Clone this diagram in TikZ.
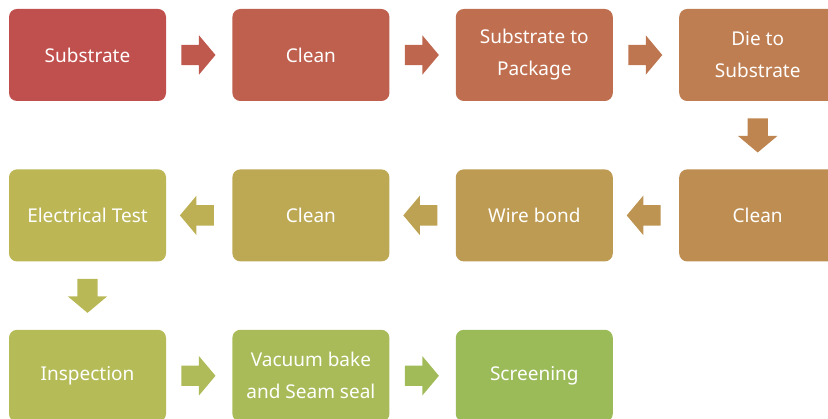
\documentclass[tikz,border=0pt]{standalone}
\usepackage{fontspec}
\setmainfont{Noto Sans}
\usetikzlibrary{positioning,shapes.arrows,calc}

% red to green range, one tone per step
\definecolor{tone0}{RGB}{192,80,77}
\definecolor{tone1}{RGB}{191,96,78}
\definecolor{tone2}{RGB}{191,111,79}
\definecolor{tone3}{RGB}{190,126,81}
\definecolor{tone4}{RGB}{190,141,82}
\definecolor{tone5}{RGB}{189,155,83}
\definecolor{tone6}{RGB}{189,169,84}
\definecolor{tone7}{RGB}{188,182,85}
\definecolor{tone8}{RGB}{181,188,87}
\definecolor{tone9}{RGB}{168,187,88}
\definecolor{tone10}{RGB}{155,187,89}

\begin{document}
\begin{tikzpicture}[
    node distance=68pt and 66pt,
    stepbox/.style={
        rectangle,
        rounded corners=8pt,
        fill=#1,
        minimum width=157pt,
        minimum height=92pt,
        align=center,
        text=white,
        font=\fontsize{19}{32}\selectfont
    },
    flow/.style={
        single arrow,
        fill=#1,
        inner sep=10pt,
        minimum height=34pt,
        single arrow head extend=9.5pt,
        single arrow tip angle=100
    },
    flow right/.style={flow=#1, xshift=-5pt},
    flow left/.style={flow=#1, shape border rotate=180, xshift=2pt},
    flow down/.style={flow=#1, shape border rotate=270, yshift=4pt}
    ]
    \useasboundingbox (0,0) rectangle (828pt,-419pt);
    \clip (0,0) rectangle (828pt,-419pt);

    % first row, left to right
    \node[stepbox=tone0] (sub) at (87.5pt,-55pt) {Substrate};
    \node[stepbox=tone1, right=of sub] (cleanA) {Clean};
    \node[stepbox=tone2, right=of cleanA] (pkg) {Substrate to\\Package};
    \node[stepbox=tone3, right=of pkg] (die) {Die to\\Substrate};

    % second row, right to left
    \node[stepbox=tone4, below=of die] (cleanB) {Clean};
    \node[stepbox=tone5, left=of cleanB] (wire) {Wire bond};
    \node[stepbox=tone6, left=of wire] (cleanC) {Clean};
    \node[stepbox=tone7, left=of cleanC] (etest) {Electrical Test};

    % third row
    \node[stepbox=tone8, below=of etest] (insp) {Inspection};
    \node[stepbox=tone9, right=of insp] (bake) {Vacuum bake\\and Seam seal};
    \node[stepbox=tone10, right=of bake] (screen) {Screening};

    % block arrows between the steps
    \node[flow right=tone0!50!tone1] (f1) at ($(sub)!0.5!(cleanA)$) {};
    \node[flow right=tone1!50!tone2] (f2) at ($(cleanA)!0.5!(pkg)$) {};
    \node[flow right=tone2!50!tone3] (f3) at ($(pkg)!0.5!(die)$) {};
    \node[flow down=tone3!50!tone4] (f4) at ($(die)!0.5!(cleanB)$) {};
    \node[flow left=tone4!50!tone5] (f5) at ($(cleanB)!0.5!(wire)$) {};
    \node[flow left=tone5!50!tone6] (f6) at ($(wire)!0.5!(cleanC)$) {};
    \node[flow left=tone6!50!tone7] (f7) at ($(cleanC)!0.5!(etest)$) {};
    \node[flow down=tone7!50!tone8] (f8) at ($(etest)!0.5!(insp)$) {};
    \node[flow right=tone8!50!tone9] (f9) at ($(insp)!0.5!(bake)$) {};
    \node[flow right=tone9!50!tone10] (f10) at ($(bake)!0.5!(screen)$) {};
\end{tikzpicture}
\end{document}
